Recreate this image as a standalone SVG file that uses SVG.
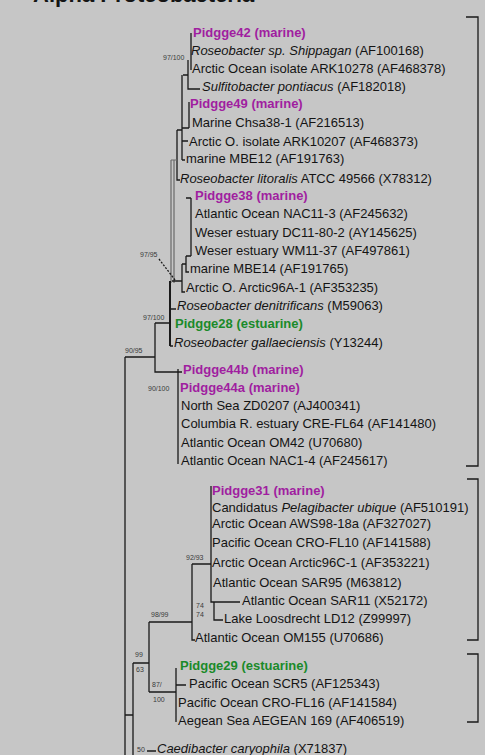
<svg xmlns="http://www.w3.org/2000/svg" width="485" height="755" viewBox="0 0 485 755">
<style>
text{font-family:"Liberation Sans",Arial,sans-serif;font-size:13px;fill:#141414}
.m{fill:#a01ea0;font-weight:bold}
.g{fill:#1a8a2a;font-weight:bold}
.i{font-style:italic}
.b{font-size:7px;fill:#3a3a3a}
.ttl{font-size:22px;font-weight:bold}
.ln{fill:none;stroke:#1a1a1a;stroke-width:1.3}
.gr{fill:none;stroke:#6a6a6a;stroke-width:1.2}
.th{fill:none;stroke:#1a1a1a;stroke-width:2}
</style>
<rect width="485" height="755" fill="#c6c6c6"/>
<text class="ttl" x="33" y="2">Alpha Proteobacteria</text>
<g id="connectors">
<path class="ln" d="M191,33V70M188,60V89H200M183,75H188"/>
<path class="ln" d="M189,102V128M182,75V160M182,128H189M182,141H188M182,160H185M177,130H182M177,130V180H180"/>
<path class="gr" d="M171,160V283M174,160V283M171,160H177"/>
<path class="ln" d="M186,198H191M191,198V256M186,256H191M186,256V272H189M182,264H186M182,264V292H185M172,281H182"/>
<path class="ln" d="M159,259L175,280" stroke-dasharray="2,1.5"/>
<path class="th" d="M170,281V346"/>
<path class="ln" d="M170,309H176M170,346H173M155,323H170M155,323V372H178M125,357H155M178,369V464M178,372H182"/>
<path class="ln" d="M125,357V755M125,715H133M133,663V755M133,663H149M149,622V692M149,622H192M192,564V640H195M192,564H211M211,486V602H240M214,602V620H223M149,692H176M176,668V722M176,685H186M147,751H156"/>
<path class="ln" d="M466,17H478V466H466M467,479H478V640H467M467,654H478V722H467"/>
</g>
<g id="bootstrap">
<text class="b" x="163" y="60">97/100</text>
<text class="b" x="140" y="257">97/95</text>
<text class="b" x="143" y="320">97/100</text>
<text class="b" x="125" y="353">90/95</text>
<text class="b" x="148" y="391">90/100</text>
<text class="b" x="186" y="560">92/93</text>
<text class="b" x="196" y="608">74</text>
<text class="b" x="196" y="617">74</text>
<text class="b" x="151" y="617">98/99</text>
<text class="b" x="135" y="657">99</text>
<text class="b" x="136" y="672">63</text>
<text class="b" x="152" y="687">87/</text>
<text class="b" x="153" y="702">100</text>
<text class="b" x="137" y="752">50</text>
</g>
<g id="leaves">
<g id="n1"><text class="m" x="193" y="36.5">Pidgge42 (marine)</text></g>
<g id="n2"><text x="191" y="54.5"><tspan class="i">Roseobacter sp. Shippagan</tspan> (AF100168)</text></g>
<g id="n3"><text x="192" y="72.5">Arctic Ocean isolate ARK10278 (AF468378)</text></g>
<g id="n4"><text x="202" y="91"><tspan class="i">Sulfitobacter pontiacus</tspan> (AF182018)</text></g>
<g id="n5"><text class="m" x="190" y="107.5">Pidgge49 (marine)</text></g>
<g id="n6"><text x="192" y="126.5">Marine Chsa38-1 (AF216513)</text></g>
<g id="n7"><text x="189" y="145.5">Arctic O. isolate ARK10207 (AF468373)</text></g>
<g id="n8"><text x="186" y="162.5">marine MBE12 (AF191763)</text></g>
<g id="n9"><text x="180" y="182.5"><tspan class="i">Roseobacter litoralis</tspan> ATCC 49566 (X78312)</text></g>
<g id="n10"><text class="m" x="195" y="199.5">Pidgge38 (marine)</text></g>
<g id="n11"><text x="195" y="217.5">Atlantic Ocean NAC11-3 (AF245632)</text></g>
<g id="n12"><text x="195" y="236.5">Weser estuary DC11-80-2 (AY145625)</text></g>
<g id="n13"><text x="195" y="254.5">Weser estuary WM11-37 (AF497861)</text></g>
<g id="n14"><text x="190" y="272.5">marine MBE14 (AF191765)</text></g>
<g id="n15"><text x="186" y="291.5">Arctic O. Arctic96A-1 (AF353235)</text></g>
<g id="n16"><text x="177" y="309.5"><tspan class="i">Roseobacter denitrificans</tspan> (M59063)</text></g>
<g id="n17"><text class="g" x="175" y="327.5">Pidgge28 (estuarine)</text></g>
<g id="n18"><text x="174" y="346.5"><tspan class="i">Roseobacter gallaeciensis</tspan> (Y13244)</text></g>
<g id="n19"><text class="m" x="183" y="373.5">Pidgge44b (marine)</text></g>
<g id="n20"><text class="m" x="180" y="391.5">Pidgge44a (marine)</text></g>
<g id="n21"><text x="181" y="409.5">North Sea ZD0207 (AJ400341)</text></g>
<g id="n22"><text x="181" y="427.5">Columbia R. estuary CRE-FL64 (AF141480)</text></g>
<g id="n23"><text x="181" y="446.5">Atlantic Ocean OM42 (U70680)</text></g>
<g id="n24"><text x="181" y="464.5">Atlantic Ocean NAC1-4 (AF245617)</text></g>
<g id="n25"><text class="m" x="212" y="494.5">Pidgge31 (marine)</text></g>
<g id="n26"><text x="212" y="511.5">Candidatus <tspan class="i">Pelagibacter ubique</tspan> (AF510191)</text></g>
<g id="n27"><text x="212" y="527.5">Arctic Ocean AWS98-18a (AF327027)</text></g>
<g id="n28"><text x="212" y="546.5">Pacific Ocean CRO-FL10 (AF141588)</text></g>
<g id="n29"><text x="212" y="566.5">Arctic Ocean Arctic96C-1 (AF353221)</text></g>
<g id="n30"><text x="213" y="586.5">Atlantic Ocean SAR95 (M63812)</text></g>
<g id="n31"><text x="242" y="604.5">Atlantic Ocean SAR11 (X52172)</text></g>
<g id="n32"><text x="224" y="622.5">Lake Loosdrecht LD12 (Z99997)</text></g>
<g id="n33"><text x="195" y="641.5">Atlantic Ocean OM155 (U70686)</text></g>
<g id="n34"><text class="g" x="180" y="669.5">Pidgge29 (estuarine)</text></g>
<g id="n35"><text x="189" y="687.5">Pacific Ocean SCR5 (AF125343)</text></g>
<g id="n36"><text x="178" y="706.5">Pacific Ocean CRO-FL16 (AF141584)</text></g>
<g id="n37"><text x="178" y="724.5">Aegean Sea AEGEAN 169 (AF406519)</text></g>
<g id="n38"><text x="157" y="752.5"><tspan class="i">Caedibacter caryophila</tspan> (X71837)</text></g>
</g>
</svg>
